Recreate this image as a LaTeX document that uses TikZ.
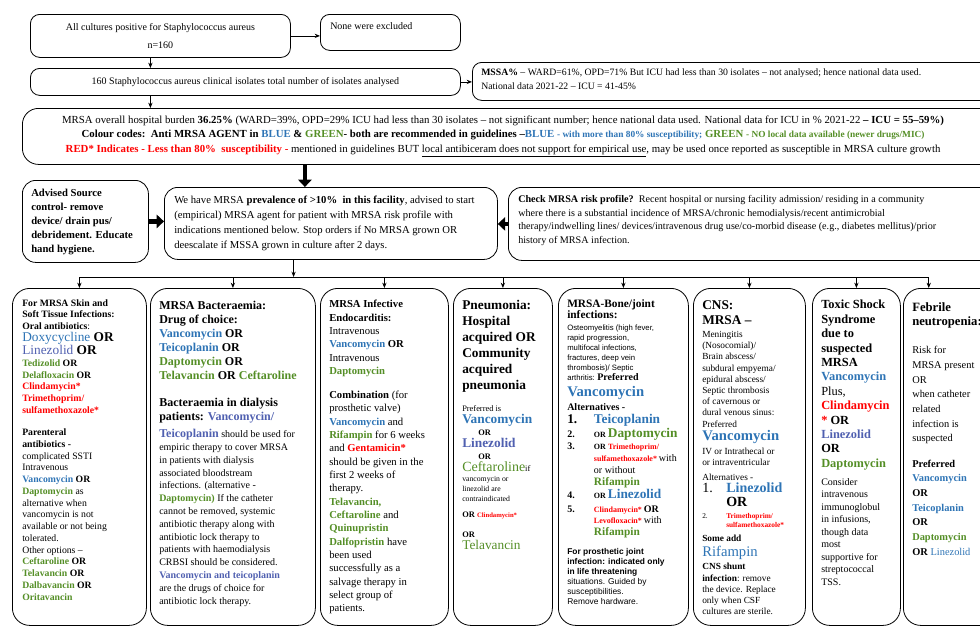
\documentclass[tikz,border=0pt]{standalone}
\usepackage{fontspec}
\setmainfont{Liberation Serif}
\newfontfamily\smallsans{Liberation Sans}
\usetikzlibrary{arrows.meta}

% agent colour codes
\definecolor{agentblue}{RGB}{46,116,181}
\definecolor{agentslate}{RGB}{80,96,176}
\definecolor{agentgreen}{RGB}{84,142,38}
\definecolor{agentred}{RGB}{255,0,0}
\newcommand{\fsz}[2]{\fontsize{#1}{#2}\selectfont}
\newcommand{\bag}[1]{\textcolor{agentblue}{\textbf{#1}}}
\newcommand{\gag}[1]{\textcolor{agentgreen}{\textbf{#1}}}
\newcommand{\rag}[1]{\textcolor{agentred}{\textbf{#1}}}
\newcommand{\sag}[1]{\textcolor{agentslate}{\textbf{#1}}}
\def\px{0.75pt}

\tikzset{
    flowbox/.style={draw, line width=0.6pt, rounded corners=7pt, inner sep=0pt, anchor=north west}, % boxes of the upper part
    colbox/.style={draw, line width=0.6pt, rounded corners=13pt, inner sep=0pt, anchor=north west}, % indication columns
    boxtext/.style={anchor=north west, align=left, inner sep=0pt},
    thin arrow/.style={-{Stealth[length=4pt, width=3.2pt]}, line width=0.6pt},
    fat arrow/.style={-{Triangle[length=5.5pt, width=10pt]}, line width=3.2pt}
}

\begin{document}
\begin{tikzpicture}[x=\px, y=-\px, font=\fsz{7.5}{9}]
    \useasboundingbox (0,0) rectangle (980,629);
    \clip (0,0) rectangle (980,629);

    % upper flow
    \node[flowbox, minimum width=260*\px, minimum height=43*\px, align=center] (cultures) at (30,14)
        {All cultures positive for Staphylococcus aureus\\[4pt] n=160};
    \node[flowbox, minimum width=140*\px, minimum height=36*\px] (excluded) at (320,14) {};
    \node[boxtext] (excludedT) at ([shift={(10,8)}]excluded.north west) {None were excluded};
    \node[flowbox, minimum width=430*\px, minimum height=27*\px] (isolates) at (30,68)
        {160 Staphylococcus aureus clinical isolates total number of isolates analysed};
    \node[flowbox, minimum width=530*\px, minimum height=38*\px] (mssa) at (472,62) {};
    \node[boxtext, font=\fsz{7.3}{11}] (mssaT) at ([shift={(9,6)}]mssa.north west)
        {\textbf{MSSA\%} – WARD=61\%, OPD=71\% But ICU had less than 30 isolates – not analysed; hence national data used.\\
         National data 2021-22 – ICU = 41-45\%};
    \node[flowbox, rounded corners=12pt, minimum width=980*\px, minimum height=56*\px] (burden) at (22,108) {};
    \node[align=center, inner sep=0pt, font=\fsz{8.1}{11}] (burdenT) at ([xshift=-7pt]burden.center)
        {MRSA overall hospital burden \textbf{36.25\%} (WARD=39\%, OPD=29\% ICU had less than 30 isolates – not significant number; hence national data used. National data for ICU in \% 2021-22 \textbf{– ICU = 55–59\%)}\\
         \textbf{Colour codes:\ \ Anti MRSA AGENT in \textcolor{agentblue}{BLUE} \& \textcolor{agentgreen}{GREEN}- both are recommended in guidelines –\textcolor{agentblue}{BLUE}} {\fsz{7}{9}\bag{- with more than 80\% susceptibility;}} \gag{GREEN} {\fsz{7}{9}\gag{- NO local data available (newer drugs/MIC)}}\\
         \rag{RED* Indicates - Less than 80\%\ \ susceptibility -} mentioned in guidelines BUT \underline{local antibiceram does not support for empirical use}, may be used once reported as susceptible in MRSA culture growth};

    \node[flowbox, rounded corners=10pt, minimum width=126*\px, minimum height=82*\px] (advise) at (22,180) {};
    \node[boxtext, font=\bfseries\fsz{8}{10.5}] (adviseT) at ([shift={(9,9)}]advise.north west)
        {Advised Source\\ control- remove\\ device/ drain pus/\\ debridement. Educate\\ hand hygiene.};
    \node[flowbox, rounded corners=10pt, minimum width=333*\px, minimum height=72*\px] (prevalence) at (164,187) {};
    \node[boxtext, font=\fsz{8}{11.2}] (prevalenceT) at ([shift={(10,9)}]prevalence.north west)
        {We have MRSA \textbf{prevalence of >10\%\ \ in this facility}, advised to start\\
         (empirical) MRSA agent for patient with MRSA risk profile with\\
         indications mentioned below. Stop orders if No MRSA grown OR\\
         deescalate if MSSA grown in culture after 2 days.};
    \node[flowbox, rounded corners=10pt, minimum width=500*\px, minimum height=73*\px] (risk) at (508,187) {};
    \node[boxtext, font=\fsz{7.6}{10.3}] (riskT) at ([shift={(10,8)}]risk.north west)
        {\textbf{Check MRSA risk profile?}\ \ Recent hospital or nursing facility admission/ residing in a community\\
         where there is a substantial incidence of MRSA/chronic hemodialysis/recent antimicrobial\\
         therapy/indwelling lines/ devices/intravenous drug use/co-morbid disease (e.g., diabetes mellitus)/prior\\
         history of MRSA infection.};

    \coordinate (stem) at ([xshift=-7.5pt]cultures.south);
    \draw[thin arrow] (cultures.east) -- (cultures.east -| excluded.west);
    \draw[thin arrow] (stem) -- (stem |- isolates.north);
    \draw[thin arrow] (isolates.east) -- (isolates.east -| mssa.west);
    \draw[thin arrow] (stem |- isolates.south) -- (stem |- burden.north);
    \coordinate (gtop) at ([xshift=-19.5pt]prevalence.north);
    \draw[fat arrow] (burden.south -| gtop) -- (gtop);
    \draw[fat arrow] (advise.east) -- (advise.east -| prevalence.west);
    \draw[fat arrow] (risk.west) -- (risk.west -| prevalence.east);

    % indication columns
    \foreach \name/\xx/\ww in {skin/12/134, bact/150/165, endo/320/128, pneu/453/99,
                               bone/558/130, cns/693/112, tox/812/88, feb/903/100}
        \node[colbox, minimum width=\ww*\px, minimum height=337*\px] (\name) at (\xx,288) {};

    \coordinate (bus) at (0,277);
    \coordinate (gout) at ([xshift=-28pt]prevalence.south);
    \coordinate (febin) at ([xshift=-18.5pt]feb.north);
    \draw[thin arrow] (gout) -- (gout |- bus);
    \draw[line width=0.6pt] (skin.north |- bus) -- (febin |- bus);
    \foreach \name in {skin, bact, endo, pneu, bone, cns, tox}
        \draw[thin arrow] (\name.north |- bus) -- (\name.north);
    \draw[thin arrow] (febin |- bus) -- (febin);

    \node[boxtext, font=\fsz{7.3}{8.8}] (skinT) at ([shift={(10,11)}]skin.north west)
        {\textbf{For MRSA Skin and}\\
         \textbf{Soft Tissue Infections:}\\
         \textbf{Oral antibiotics}:\\
         {\fsz{10}{11}\textcolor{agentblue}{Doxycycline} \textbf{OR}}\\
         {\fsz{10}{11}\textcolor{agentslate}{Linezolid} \textbf{OR}}\\
         \gag{Tedizolid} \textbf{OR}\\
         \gag{Delafloxacin} \textbf{OR}\\
         \rag{Clindamycin*}\\
         \rag{Trimethoprim/}\\
         \rag{sulfamethoxazole*}\\[8pt]
         \textbf{Parenteral}\\
         \textbf{antibiotics -}\\
         complicated SSTI\\
         Intravenous\\
         \bag{Vancomycin} \textbf{OR}\\
         \gag{Daptomycin} as\\
         alternative when\\
         vancomycin is not\\
         available or not being\\
         tolerated.\\
         Other options –\\
         \gag{Ceftaroline} \textbf{OR}\\
         \gag{Telavancin} \textbf{OR}\\
         \gag{Dalbavancin} \textbf{OR}\\
         \gag{Oritavancin}};

    \node[boxtext, font=\bfseries\fsz{9}{10.5}] (bactT) at ([shift={(9,13)}]bact.north west)
        {MRSA Bacteraemia:\\
         Drug of choice:\\
         \bag{Vancomycin} OR\\
         \bag{Teicoplanin} OR\\
         \gag{Daptomycin} OR\\
         \gag{Telavancin} OR \gag{Ceftaroline}\\[10pt]
         Bacteraemia in dialysis\\
         patients: \sag{Vancomycin/}};
    \node[boxtext, font=\fsz{7.5}{9.6}] (bactNote) at ([shift={(9,141)}]bact.north west)
        {{\fsz{9}{10}\sag{Teicoplanin}} should be used for\\
         empiric therapy to cover MRSA\\
         in patients with dialysis\\
         associated bloodstream\\
         infections. (alternative -\\
         \gag{Daptomycin)} If the catheter\\
         cannot be removed, systemic\\
         antibiotic therapy along with\\
         antibiotic lock therapy to\\
         patients with haemodialysis\\
         CRBSI should be considered.\\
         \sag{Vancomycin and teicoplanin}\\
         are the drugs of choice for\\
         antibiotic lock therapy.};

    \node[boxtext, font=\fsz{8}{10}] (endoT) at ([shift={(9,12)}]endo.north west)
        {\textbf{MRSA Infective}\\
         \textbf{Endocarditis:}\\
         Intravenous\\
         \bag{Vancomycin} \textbf{OR}\\
         Intravenous\\
         \gag{Daptomycin}\\[8pt]
         \textbf{Combination} (for\\
         prosthetic valve)\\
         \bag{Vancomycin} and\\
         \gag{Rifampin} for 6 weeks\\
         and \rag{Gentamicin*}\\
         should be given in the\\
         first 2 weeks of\\
         therapy.\\
         \gag{Telavancin,}\\
         \gag{Ceftaroline} and\\
         \gag{Quinupristin}\\
         \gag{Dalfopristin} have\\
         been used\\
         successfully as a\\
         salvage therapy in\\
         select group of\\
         patients.};

    \node[boxtext, font=\bfseries\fsz{10}{12}] (pneuT) at ([shift={(9,12)}]pneu.north west)
        {Pneumonia:\\ Hospital\\ acquired OR\\ Community\\ acquired\\ pneumonia};
    \node[boxtext, font=\fsz{6.3}{7.5}] (pneuNote) at ([shift={(9,117)}]pneu.north west)
        {Preferred is\\[1.5pt]
         {\fsz{10}{12}\bag{Vancomycin}}\\[1.5pt]
         \hspace*{12pt}\textbf{OR}\\[1.5pt]
         {\fsz{10}{12}\sag{Linezolid}}\\[1.5pt]
         \hspace*{12pt}\textbf{OR}\\[1.5pt]
         {\fsz{10.5}{12}\textcolor{agentgreen}{Ceftaroline}}if\\
         {\fsz{5.8}{7}vancomycin or}\\
         {\fsz{5.8}{7}linezolid are}\\
         {\fsz{5.8}{7}contraindicated}\\[5pt]
         \textbf{OR} {\fsz{5}{6}\rag{Clindamycin*}}\\[7pt]
         \textbf{OR}\\[1.5pt]
         {\fsz{10}{12}\textcolor{agentgreen}{Telavancin}}};

    \node[boxtext, font=\fsz{5.8}{7.5}] (boneT) at ([shift={(9,11)}]bone.north west)
        {{\fsz{8.5}{10}\textbf{MRSA-Bone/joint}}\\
         {\fsz{8.5}{10}\textbf{infections:}}\\[1.5pt]
         {\smallsans Osteomyelitis (high fever,}\\
         {\smallsans rapid progression,}\\
         {\smallsans multifocal infections,}\\
         {\smallsans fractures, deep vein}\\
         {\smallsans thrombosis)/ Septic}\\
         {\smallsans arthritis:} {\fsz{7.5}{9}\textbf{Preferred}}\\[3pt]
         {\fsz{11}{13}\bag{Vancomycin}}\\[2pt]
         {\fsz{7.5}{9}\textbf{Alternatives -}}\\[2.5pt]
         {\fsz{10}{12}\makebox[20pt][l]{\textbf{1.}}\bag{Teicoplanin}}\\
         {\fsz{7.5}{9}\makebox[20pt][l]{\textbf{2.}}}{\fsz{6}{7}\textbf{OR}} {\fsz{10}{12}\gag{Daptomycin}}\\[1.5pt]
         {\fsz{7.5}{9}\makebox[20pt][l]{\textbf{3.}}}{\fsz{6}{7}\textbf{OR} \rag{Trimethoprim/}}\\[1.5pt]
         \hspace*{20pt}{\fsz{6}{7}\rag{sulfamethoxazole*}} {\fsz{7.5}{9}with}\\[1.5pt]
         \hspace*{20pt}{\fsz{7.5}{9}or without}\\[1.5pt]
         \hspace*{20pt}{\fsz{8.5}{10}\gag{Rifampin}}\\
         {\fsz{7.5}{9}\makebox[20pt][l]{\textbf{4.}}}{\fsz{6}{7}\textbf{OR}} {\fsz{10}{12}\bag{Linezolid}}\\[3pt]
         {\fsz{7.5}{9}\makebox[20pt][l]{\textbf{5.}}}{\fsz{6}{7}\rag{Clindamycin*}} {\fsz{7.5}{9}\textbf{OR}}\\[0.5pt]
         \hspace*{20pt}{\fsz{6}{7}\rag{Levofloxacin*}} {\fsz{7.5}{9}with}\\[1.5pt]
         \hspace*{20pt}{\fsz{8.5}{10}\gag{Rifampin}}\\[7pt]
         {\smallsans\fsz{6.3}{7.5}\textbf{For prosthetic joint}}\\
         {\smallsans\fsz{6.3}{7.5}\textbf{infection: indicated only}}\\
         {\smallsans\fsz{6.3}{7.5}\textbf{in life threatening}}\\
         {\smallsans\fsz{6.3}{7.5}situations. Guided by}\\
         {\smallsans\fsz{6.3}{7.5}susceptibilities.}\\
         {\smallsans\fsz{6.3}{7.5}Remove hardware.}};

    \node[boxtext, font=\fsz{7}{8.4}] (cnsT) at ([shift={(9,12)}]cns.north west)
        {{\fsz{10}{11}\textbf{CNS:}}\\[3pt]
         {\fsz{10}{11}\textbf{MRSA –}}\\[1.5pt]
         Meningitis\\
         (Nosocomial)/\\
         Brain abscess/\\
         subdural empyema/\\
         epidural abscess/\\
         Septic thrombosis\\
         of cavernous or\\
         dural venous sinus:\\
         Preferred\\[1.5pt]
         {\fsz{11}{13}\bag{Vancomycin}}\\[2.2pt]
         IV or Intrathecal or\\
         or intraventricular\\[3pt]
         Alternatives -\\[0.5pt]
         {\fsz{10.5}{12}\makebox[18pt][l]{1.}\bag{Linezolid}}\\[2pt]
         {\fsz{10.5}{12}\hspace*{18pt}\textbf{OR}}\\[0.5pt]
         {\fsz{5.5}{6.5}\makebox[18pt][l]{2.}\rag{Trimethoprim/}}\\[-1.5pt]
         {\fsz{5.5}{6.5}\hspace*{18pt}\rag{sulfamethoxazole*}}\\[2pt]
         \textbf{Some add}\\[2.5pt]
         {\fsz{11}{13}\textcolor{agentblue}{Rifampin}}\\[2pt]
         \textbf{CNS shunt}\\
         \textbf{infection}: remove\\
         the device. Replace\\
         only when CSF\\
         cultures are sterile.};

    \node[boxtext, font=\bfseries\fsz{9.3}{10.8}] (toxT) at ([shift={(9,12)}]tox.north west)
        {Toxic Shock\\ Syndrome\\ due to\\ suspected\\ MRSA\\
         \bag{Vancomycin}\\
         \mdseries Plus,\\
         \rag{Clindamycin}\\
         \rag{*} OR\\
         \sag{Linezolid}\\
         OR\\
         \gag{Daptomycin}};
    \node[boxtext, font=\fsz{7.5}{9.4}] (toxNote) at ([shift={(9,190)}]tox.north west)
        {Consider\\ intravenous\\ immunoglobul\\ in infusions,\\ though data\\ most\\ supportive for\\ streptococcal\\ TSS.};

    \node[boxtext, font=\fsz{7.8}{11}] (febT) at ([shift={(9,14)}]feb.north west)
        {{\fsz{9.5}{11}\textbf{Febrile}}\\
         {\fsz{9.5}{11}\textbf{neutropenia:}}\\[10pt]
         Risk for\\
         MRSA present\\
         OR\\
         when catheter\\
         related\\
         infection is\\
         suspected\\[8pt]
         \textbf{Preferred}\\
         \bag{Vancomycin}\\
         \textbf{OR}\\
         \bag{Teicoplanin}\\
         \textbf{OR}\\
         \gag{Daptomycin}\\
         \textbf{OR} \textcolor{agentblue}{Linezolid}};
\end{tikzpicture}
\end{document}
